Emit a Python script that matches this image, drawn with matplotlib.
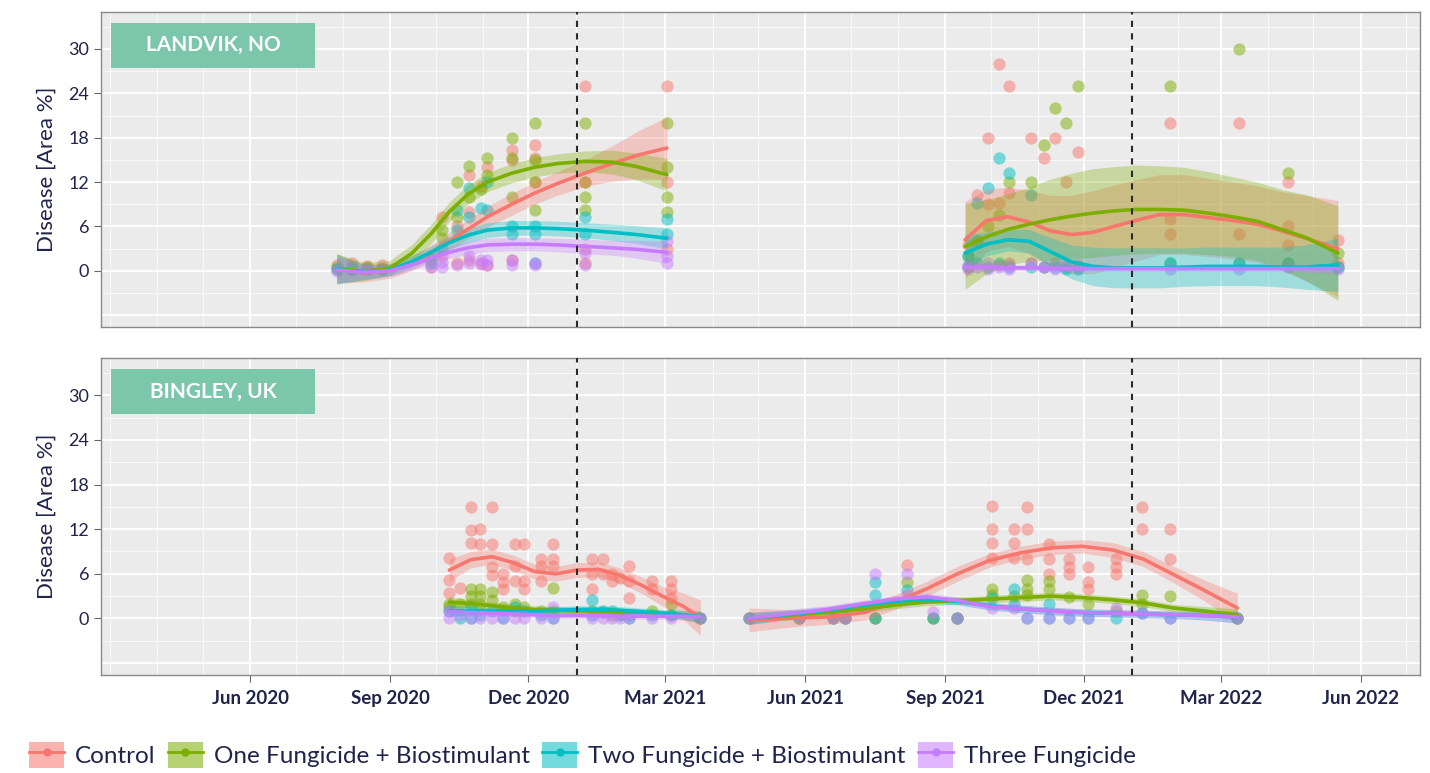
import matplotlib
matplotlib.use('Agg')
from matplotlib import pyplot as plt
import matplotlib.dates as mdates
from matplotlib.patches import Rectangle, Patch
from matplotlib.lines import Line2D
import pandas as pd

plt.rcParams['font.family'] = ['Lato', 'DejaVu Sans']

navy = '#20244a'
treatments = ['Control', 'One Fungicide + Biostimulant',
              'Two Fungicide + Biostimulant', 'Three Fungicide']
colors = ['#F8766D', '#7CAE00', '#00BFC4', '#C77CFF']
season_breaks = ['2021-01-01', '2022-01-01']

# ---------------- Landvik, NO : observations ----------------
lan_dates = ['2020-07-28', '2020-08-07', '2020-08-17', '2020-08-27', '2020-09-28',
             '2020-10-05', '2020-10-15', '2020-10-23', '2020-10-31', '2020-11-04',
             '2020-11-20', '2020-12-05', '2021-01-07', '2021-03-02',
             '2021-09-16', '2021-09-22', '2021-09-29', '2021-10-06', '2021-10-13',
             '2021-10-27', '2021-11-05', '2021-11-12', '2021-11-19', '2021-11-27',
             '2022-01-27', '2022-03-13', '2022-04-14', '2022-05-17']
lan_control = [[0.3, 0.8], [0.5, 1.0], [0.6], [0.8, 0.2], [1.5, 0.5], [7.3, 2.0], [6.0, 1.0],
               [13.0, 8.0, 1.5], [11.4, 1.0], [14.0, 0.8], [16.4, 15.0, 1.5],
               [17.0, 15.3, 12.0], [25.0, 12.0, 3.0, 1.0], [25.0, 12.0, 3.0],
               [3.5, 0.5], [10.3, 4.0], [18.0, 9.0], [28.0, 9.2, 0.8], [25.0, 10.5, 1.0],
               [18.0, 1.0], [15.3, 0.5], [18.0, 1.0], [12.0, 0.5], [16.0, 0.8],
               [20.0, 7.0, 5.0], [20.0, 5.0], [12.0, 6.0, 3.5], [4.2, 1.0]]
lan_one = [[0.5], [0.3], [0.5], [0.3], [2.0], [5.5, 4.5], [12.0, 7.3], [14.2, 10.0], [11.0],
           [15.3, 13.0], [18.0, 15.3, 10.0], [20.0, 15.0, 12.0, 8.2], [20.0, 12.0, 10.0, 8.2],
           [20.0, 14.0, 10.0, 8.0],
           [2.0], [4.0], [6.0], [7.5], [12.0], [12.0], [17.0], [22.0], [20.0], [25.0],
           [25.0, 1.0], [30.0, 1.0], [13.2, 1.0], [2.4, 0.5]]
lan_two = [[0.2], [0.2], [0.3], [0.2], [1.0], [3.0], [8.2, 5.5], [11.2, 7.3], [8.5],
           [12.0, 8.2], [6.0, 5.0], [6.0, 5.0, 1.0], [7.3, 5.0], [7.0, 5.0],
           [2.0, 0.5], [9.2, 1.0], [11.2, 0.5], [15.3, 1.0], [13.2, 0.5], [10.3, 0.5],
           [0.5], [0.5], [0.3], [0.3], [1.0], [1.0], [1.0], [0.5]]
lan_three = [[0.0], [0.1], [0.2], [0.2], [0.5], [0.5, 1.2], [0.8], [1.0, 2.0], [0.9, 1.5],
             [0.8, 1.5], [1.5, 0.8], [0.8, 1.0], [2.4, 0.8], [1.0, 2.0, 4.0],
             [0.3, 0.8], [0.5], [1.0, 0.3], [0.5], [0.8, 0.2], [1.0], [0.5], [0.3], [0.8],
             [0.5], [0.2], [0.3], [0.5], [0.3]]

# ---------------- Landvik, NO : smoothed fits (mean, half band) ----------------
lan_fit1_dates = ['2020-07-28', '2020-08-15', '2020-09-01', '2020-09-15', '2020-09-28',
                  '2020-10-10', '2020-10-22', '2020-11-04', '2020-11-20', '2020-12-05',
                  '2020-12-20', '2021-01-07', '2021-01-25', '2021-02-10', '2021-03-02']
lan_fit1_mid = [[0.3, -0.3, 0.0, 1.0, 2.5, 4.0, 5.6, 7.3, 9.0, 10.5, 11.8, 13.2, 14.5, 15.6, 16.6],
                [0.3, -0.1, 0.4, 2.3, 5.0, 8.0, 10.3, 12.0, 13.2, 14.0, 14.5, 14.8, 14.7, 14.1, 13.0],
                [0.2, -0.2, 0.1, 1.2, 2.5, 3.8, 4.8, 5.5, 5.8, 5.8, 5.7, 5.5, 5.2, 4.9, 4.4],
                [0.1, -0.2, 0.0, 0.8, 1.7, 2.5, 3.1, 3.5, 3.6, 3.6, 3.5, 3.3, 3.1, 2.9, 2.5]]
lan_fit1_band = [[2.0, 1.2, 1.0, 1.0, 1.0, 1.2, 1.3, 1.4, 1.5, 1.5, 1.6, 1.8, 2.4, 3.2, 4.2],
                 [2.0, 1.2, 1.0, 1.2, 1.3, 1.3, 1.3, 1.3, 1.3, 1.3, 1.3, 1.4, 1.6, 1.8, 2.2],
                 [2.0, 1.0, 0.8, 0.8, 0.8, 0.9, 1.0, 1.0, 1.0, 1.0, 1.0, 1.0, 1.1, 1.2, 1.4],
                 [1.8, 0.9, 0.7, 0.7, 0.8, 0.8, 0.9, 0.9, 0.9, 0.9, 0.9, 1.0, 1.0, 1.2, 1.5]]
lan_fit2_dates = ['2021-09-14', '2021-09-28', '2021-10-12', '2021-10-26', '2021-11-09',
                  '2021-11-23', '2021-12-07', '2021-12-21', '2022-01-04', '2022-01-20',
                  '2022-02-05', '2022-02-21', '2022-03-09', '2022-03-25', '2022-04-10',
                  '2022-04-26', '2022-05-17']
lan_fit2_mid = [[4.2, 6.8, 7.3, 6.6, 5.4, 4.9, 5.2, 6.0, 6.8, 7.6, 7.6, 7.2, 6.8, 6.3, 5.4, 4.4, 3.0],
                [3.3, 4.6, 5.6, 6.3, 6.9, 7.4, 7.8, 8.1, 8.3, 8.3, 8.2, 7.8, 7.3, 6.7, 5.6, 4.5, 2.4],
                [2.4, 3.6, 4.2, 4.0, 2.6, 1.2, 0.6, 0.4, 0.4, 0.4, 0.5, 0.6, 0.6, 0.6, 0.5, 0.5, 0.8],
                [0.5, 0.5, 0.4, 0.4, 0.3, 0.3, 0.3, 0.3, 0.3, 0.3, 0.3, 0.3, 0.3, 0.3, 0.3, 0.3, 0.3]]
lan_fit2_band = [[5.2, 4.2, 4.0, 4.3, 4.8, 5.3, 5.6, 5.6, 5.5, 5.4, 5.4, 5.3, 5.2, 5.2, 5.3, 5.8, 6.5],
                 [5.8, 5.0, 4.8, 5.0, 5.5, 5.8, 6.0, 6.0, 6.0, 5.9, 5.8, 5.6, 5.4, 5.3, 5.4, 5.8, 6.4],
                 [2.5, 1.6, 1.5, 1.6, 1.9, 2.3, 2.6, 2.7, 2.7, 2.7, 2.6, 2.6, 2.6, 2.6, 2.7, 3.0, 3.6],
                 [0.8, 0.5, 0.4, 0.4, 0.4, 0.4, 0.4, 0.4, 0.4, 0.4, 0.4, 0.4, 0.4, 0.4, 0.4, 0.5, 0.7]]

# ---------------- Bingley, UK : observations ----------------
bin_dates = ['2020-10-10', '2020-10-17', '2020-10-24', '2020-10-30', '2020-11-07',
             '2020-11-14', '2020-11-22', '2020-11-28', '2020-12-09', '2020-12-17',
             '2021-01-12', '2021-01-19', '2021-01-25', '2021-01-30', '2021-02-05',
             '2021-02-20', '2021-03-05', '2021-03-24',
             '2021-04-25', '2021-05-28', '2021-06-19', '2021-06-27', '2021-07-17',
             '2021-08-07', '2021-08-24', '2021-09-09', '2021-10-02', '2021-10-16',
             '2021-10-25', '2021-11-08', '2021-11-21', '2021-12-04', '2021-12-22',
             '2022-01-08', '2022-01-27', '2022-03-12']
bin_control = [[8.1, 5.1, 3.4], [4.1], [15.0, 11.9, 10.1], [12.0, 10.0], [15.0, 10.0, 6.9, 5.9],
               [6.0, 4.9, 4.0], [10.0, 7.0, 5.0], [10.0, 5.0, 4.0], [8.0, 7.0, 5.0],
               [10.0, 8.0, 7.0], [8.0, 6.0, 4.0], [8.0, 6.0], [6.0, 5.0], [5.5],
               [7.0, 5.0, 2.8], [5.0, 4.0], [5.0, 4.0, 2.8], [0.0],
               [0.0], [0.0], [0.0], [0.0], [0.0], [7.2], [0.0], [0.0],
               [15.1, 12.0, 10.1, 8.1], [12.0, 10.1, 8.1], [15.0, 12.0, 8.0], [10.0, 8.0, 6.0],
               [8.0, 6.9, 6.0], [6.9, 4.9, 4.0], [8.0, 6.9, 6.0], [15.0, 12.0], [12.0, 8.0], [0.0]]
bin_one = [[2.0, 1.5], [2.0], [4.0, 3.0, 2.0], [4.0, 3.0, 2.0], [3.5, 2.5], [1.5], [2.0, 1.0],
           [1.5], [1.0], [4.1, 1.0], [1.0], [0.8], [0.5], [0.5], [0.5], [1.0], [2.0, 0.5], [0.0],
           [0.0], [0.0], [0.0], [0.0], [0.0], [4.9], [0.0], [0.0], [3.9, 3.1], [3.0],
           [5.1, 3.9, 3.1], [5.0, 3.9], [2.9], [2.0], [1.0], [3.1, 2.0], [3.0], [0.0]]
bin_two = [[1.0], [0.0], [1.5, 0.0], [0.5], [1.0], [0.0], [1.5], [1.0], [0.5], [0.0],
           [2.5, 0.5], [1.0], [1.0], [0.5], [0.0], [0.5], [0.5], [0.0],
           [0.0], [0.0], [0.0], [0.0], [4.9, 3.1, 0.0], [3.8], [0.0], [0.0], [2.8],
           [3.9, 2.0], [0.0], [2.0, 0.0], [0.0], [0.0], [0.0], [0.7], [0.0], [0.0]]
bin_three = [[1.0, 0.0], [0.5], [0.0], [0.0], [0.0], [0.0], [0.0], [0.0], [0.0], [1.5, 0.0],
             [0.0], [0.0], [0.0], [0.0], [0.0], [0.0], [0.0], [0.0],
             [0.0], [0.0], [0.0], [0.0], [6.0], [6.0, 3.1], [0.8], [0.0], [1.4], [1.4],
             [0.0], [0.0], [0.0], [0.0], [1.4], [0.7], [0.0], [0.0]]

# ---------------- Bingley, UK : smoothed fits ----------------
bin_fit1_dates = ['2020-10-10', '2020-10-24', '2020-11-07', '2020-11-21', '2020-12-05',
                  '2020-12-19', '2021-01-02', '2021-01-16', '2021-01-30', '2021-02-13',
                  '2021-02-27', '2021-03-13', '2021-03-24']
bin_fit1_mid = [[6.5, 7.9, 8.3, 7.5, 6.3, 6.0, 6.5, 6.6, 5.8, 4.5, 3.0, 1.6, 0.1],
                [2.2, 2.0, 1.7, 1.4, 1.2, 1.1, 1.0, 1.0, 0.9, 0.8, 0.6, 0.4, 0.2],
                [1.0, 1.0, 1.0, 1.0, 1.0, 1.1, 1.2, 1.2, 1.1, 0.9, 0.7, 0.5, 0.2],
                [0.9, 0.8, 0.7, 0.6, 0.5, 0.4, 0.4, 0.4, 0.3, 0.3, 0.3, 0.3, 0.2]]
bin_fit1_band = [[1.5, 1.1, 1.0, 1.0, 1.0, 1.0, 1.0, 1.0, 1.0, 1.1, 1.3, 1.8, 2.4],
                 [0.7, 0.5, 0.5, 0.5, 0.5, 0.5, 0.5, 0.5, 0.5, 0.5, 0.5, 0.6, 0.8],
                 [0.7, 0.5, 0.5, 0.5, 0.5, 0.5, 0.5, 0.5, 0.5, 0.5, 0.5, 0.6, 0.8],
                 [0.6, 0.4, 0.4, 0.4, 0.4, 0.4, 0.4, 0.4, 0.4, 0.4, 0.4, 0.5, 0.7]]
bin_fit2_dates = ['2021-04-25', '2021-05-20', '2021-06-15', '2021-07-10', '2021-07-30',
                  '2021-08-20', '2021-09-09', '2021-09-30', '2021-10-20', '2021-11-10',
                  '2021-11-30', '2021-12-20', '2022-01-09', '2022-01-29', '2022-02-18',
                  '2022-03-12']
bin_fit2_mid = [[-0.2, 0.0, 0.2, 0.8, 2.2, 4.0, 6.0, 7.8, 8.8, 9.5, 9.7, 9.2, 8.0, 5.9, 3.8, 1.4],
                [0.0, 0.4, 0.8, 1.3, 1.8, 2.2, 2.4, 2.6, 2.8, 3.0, 2.8, 2.5, 2.1, 1.4, 1.0, 0.5],
                [0.0, 0.5, 1.1, 1.8, 2.3, 2.6, 2.3, 1.7, 1.3, 1.0, 0.8, 0.7, 0.6, 0.5, 0.4, 0.2],
                [0.0, 0.6, 1.2, 2.0, 2.6, 2.9, 2.4, 1.6, 1.3, 1.0, 0.8, 0.7, 0.6, 0.5, 0.4, 0.2]]
bin_fit2_band = [[1.6, 1.2, 1.0, 1.0, 1.0, 1.0, 1.0, 0.9, 0.9, 0.9, 0.9, 1.0, 1.0, 1.1, 1.4, 2.0],
                 [0.8, 0.6, 0.5, 0.5, 0.5, 0.5, 0.5, 0.5, 0.5, 0.5, 0.5, 0.5, 0.5, 0.5, 0.6, 0.8],
                 [0.8, 0.6, 0.5, 0.5, 0.5, 0.5, 0.5, 0.5, 0.5, 0.5, 0.5, 0.5, 0.5, 0.5, 0.6, 0.8],
                 [0.8, 0.6, 0.5, 0.5, 0.5, 0.5, 0.5, 0.5, 0.5, 0.5, 0.5, 0.5, 0.5, 0.5, 0.6, 0.8]]

major_ticks = ['2020-06-01', '2020-09-01', '2020-12-01', '2021-03-01', '2021-06-01',
               '2021-09-01', '2021-12-01', '2022-03-01', '2022-06-01']
y_ticks = [0, 6, 12, 18, 24, 30]


def draw_points(ax, dates, groups):
    for vals, c in zip(groups, colors):
        xs, ys = [], []
        for d, v in zip(dates, vals):
            for val in v:
                xs.append(pd.Timestamp(d))
                ys.append(val)
        ax.scatter(xs, ys, s=78, color=c, alpha=0.5, linewidths=0, zorder=2)


def draw_fit(ax, dates, mids, bands):
    x = pd.to_datetime(dates)
    for mid, band, c in zip(mids, bands, colors):
        lo = [m - b for m, b in zip(mid, band)]
        hi = [m + b for m, b in zip(mid, band)]
        ax.fill_between(x, lo, hi, color=c, alpha=0.32, linewidth=0, zorder=3)
    for mid, c in zip(mids, colors):
        ax.plot(x, mid, color=c, lw=2.6, zorder=4, solid_capstyle='round')


fig = plt.figure(figsize=(14.3, 7.73), dpi=100)
ax_top = fig.add_axes([0.0706, 0.577, 0.9224, 0.4075])
ax_bot = fig.add_axes([0.0706, 0.1268, 0.9224, 0.41])

panels = [
    (ax_top, 'LANDVIK, NO', lan_dates, [lan_control, lan_one, lan_two, lan_three],
     [(lan_fit1_dates, lan_fit1_mid, lan_fit1_band), (lan_fit2_dates, lan_fit2_mid, lan_fit2_band)]),
    (ax_bot, 'BINGLEY, UK', bin_dates, [bin_control, bin_one, bin_two, bin_three],
     [(bin_fit1_dates, bin_fit1_mid, bin_fit1_band), (bin_fit2_dates, bin_fit2_mid, bin_fit2_band)]),
]

for ax, site, dates, groups, fits in panels:
    ax.set_facecolor('#ebebeb')
    draw_points(ax, dates, groups)
    for fd, fm, fb in fits:
        draw_fit(ax, fd, fm, fb)
    for b in season_breaks:
        ax.axvline(pd.Timestamp(b) + pd.Timedelta(days=1), color='#2a2a2a', lw=1.5,
                   ls=(0, (3, 3)), zorder=5)

    ax.set_xlim(pd.Timestamp('2020-02-24'), pd.Timestamp('2022-07-10'))
    ax.set_ylim(-7.6, 35.0)
    ax.set_yticks(y_ticks)
    ax.set_yticks([-3, 3, 9, 15, 21, 27, 33], minor=True)
    ax.axhline(-6, color='white', lw=1.3, zorder=0.5)
    ax.set_xticks(pd.to_datetime(major_ticks))
    ax.xaxis.set_minor_locator(mdates.MonthLocator())
    ax.xaxis.set_major_formatter(mdates.DateFormatter('%b %Y'))
    ax.set_axisbelow(True)
    ax.grid(which='major', color='white', lw=1.3)
    ax.grid(which='minor', color='white', lw=0.6, alpha=0.8)
    for s in ax.spines.values():
        s.set_color('#8a8a8a')
        s.set_linewidth(1.0)
    ax.tick_params(axis='y', which='major', length=5, color='#666666',
                   labelcolor=navy, labelsize=13)
    ax.tick_params(which='minor', length=0)
    ax.tick_params(axis='x', which='major', length=5, color='#666666',
                   labelcolor=navy, labelsize=13.5, pad=6)
    for lab in ax.get_xticklabels():
        lab.set_fontweight('bold')
    ax.set_ylabel('Disease [Area %]', fontsize=16, color=navy, labelpad=8)

    ax.add_patch(Rectangle((0.0076, 0.823), 0.155, 0.143, transform=ax.transAxes,
                           facecolor='#7cc6ab', edgecolor='none', zorder=6))
    ax.text(0.0076 + 0.0775, 0.8945, site, transform=ax.transAxes, ha='center', va='center',
            color='white', fontweight='bold', fontsize=15, zorder=7)

ax_top.tick_params(axis='x', which='both', bottom=False, labelbottom=False)

handles = [(Patch(facecolor=c, alpha=0.55, edgecolor='none'),
            Line2D([], [], color=c, lw=2, marker='o', ms=5)) for c in colors]
fig.legend(handles, treatments, loc='lower left', bbox_to_anchor=(0.005, -0.022), ncol=4,
           frameon=False, fontsize=17.5, labelcolor=navy, handlelength=1.45, handleheight=1.3,
           handletextpad=0.45, columnspacing=0.5)

fig.savefig('out.png', dpi=100)
